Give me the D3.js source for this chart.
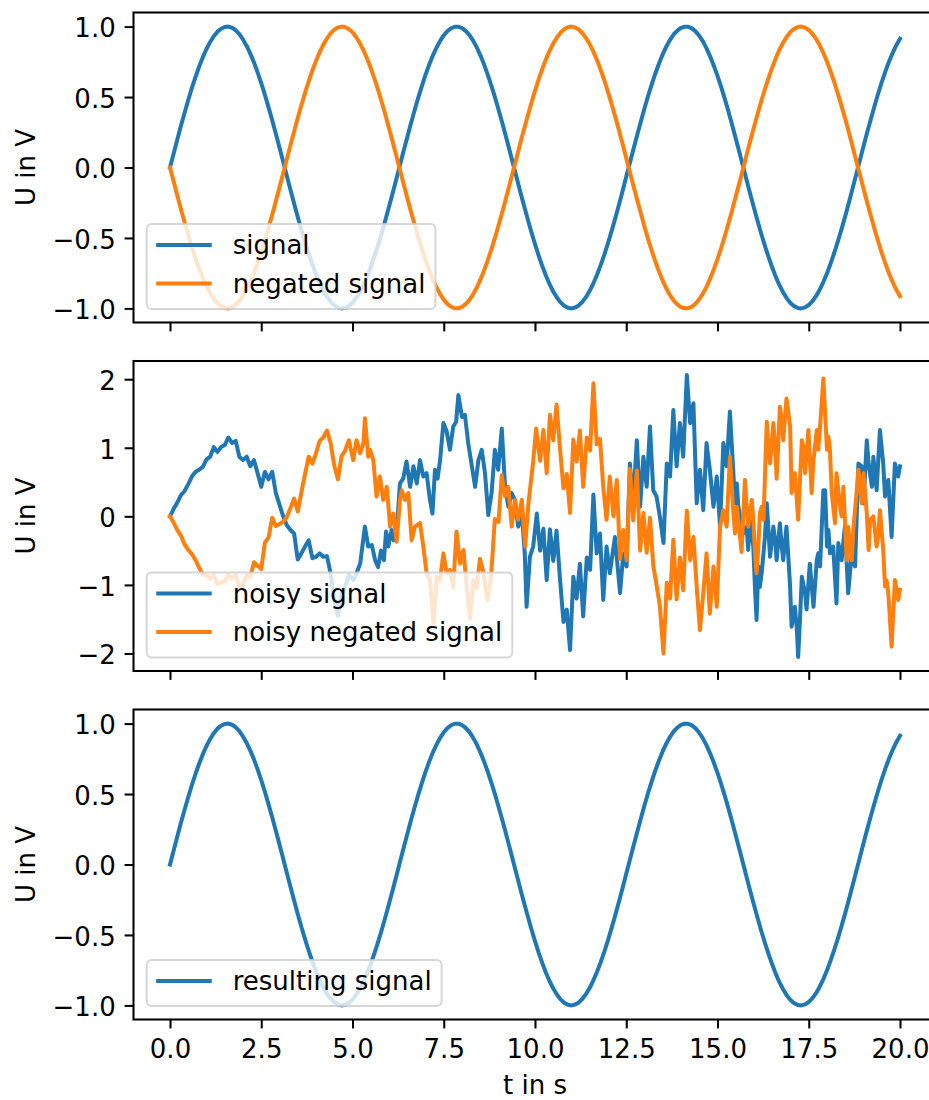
<!DOCTYPE html>
<html><head><meta charset="utf-8">
<script src="https://cdn.jsdelivr.net/npm/d3@7"></script>
<style>
body{margin:0;background:#fff}
svg{display:block}
text{font-family:"DejaVu Sans",sans-serif;fill:#000}
</style>
</head><body>
<svg id="c" width="929" height="1100"></svg>
<script>
// ---------- DATA ----------
const timeGrid = [0,0.1,0.2,0.3,0.4,0.5,0.6,0.7,0.8,0.9,1,1.1,1.2,1.3,1.4,1.5,1.6,1.7,1.8,1.9,2,2.1,2.2,2.3,2.4,2.5,2.6,2.7,2.8,2.9,3,3.1,3.2,3.3,3.4,3.5,3.6,3.7,3.8,3.9,4,4.1,4.2,4.3,4.4,4.5,4.6,4.7,4.8,4.9,5,5.1,5.2,5.3,5.4,5.5,5.6,5.7,5.8,5.9,6,6.1,6.2,6.3,6.4,6.5,6.6,6.7,6.8,6.9,7,7.1,7.2,7.3,7.4,7.5,7.6,7.7,7.8,7.9,8,8.1,8.2,8.3,8.4,8.5,8.6,8.7,8.8,8.9,9,9.1,9.2,9.3,9.4,9.5,9.6,9.7,9.8,9.9,10,10.1,10.2,10.3,10.4,10.5,10.6,10.7,10.8,10.9,11,11.1,11.2,11.3,11.4,11.5,11.6,11.7,11.8,11.9,12,12.1,12.2,12.3,12.4,12.5,12.6,12.7,12.8,12.9,13,13.1,13.2,13.3,13.4,13.5,13.6,13.7,13.8,13.9,14,14.1,14.2,14.3,14.4,14.5,14.6,14.7,14.8,14.9,15,15.1,15.2,15.3,15.4,15.5,15.6,15.7,15.8,15.9,16,16.1,16.2,16.3,16.4,16.5,16.6,16.7,16.8,16.9,17,17.1,17.2,17.3,17.4,17.5,17.6,17.7,17.8,17.9,18,18.1,18.2,18.3,18.4,18.5,18.6,18.7,18.8,18.9,19,19.1,19.2,19.3,19.4,19.5,19.6,19.7,19.8,19.9,20];

const signal = [0,0.1,0.199,0.296,0.389,0.479,0.565,0.644,0.717,0.783,0.841,0.891,0.932,0.964,0.985,0.997,1.0,0.992,0.974,0.946,0.909,0.863,0.808,0.746,0.675,0.598,0.516,0.427,0.335,0.239,0.141,0.042,-0.058,-0.158,-0.256,-0.351,-0.443,-0.53,-0.612,-0.688,-0.757,-0.818,-0.872,-0.916,-0.952,-0.978,-0.994,-1.0,-0.996,-0.982,-0.959,-0.926,-0.883,-0.832,-0.773,-0.706,-0.631,-0.551,-0.465,-0.374,-0.279,-0.182,-0.083,0.017,0.117,0.215,0.312,0.405,0.494,0.578,0.657,0.729,0.794,0.85,0.899,0.938,0.968,0.988,0.999,0.999,0.989,0.97,0.941,0.902,0.855,0.798,0.734,0.663,0.585,0.501,0.412,0.319,0.223,0.124,0.025,-0.075,-0.175,-0.272,-0.366,-0.458,-0.544,-0.625,-0.7,-0.768,-0.828,-0.88,-0.923,-0.957,-0.981,-0.996,-1.0,-0.994,-0.979,-0.953,-0.918,-0.875,-0.822,-0.761,-0.693,-0.618,-0.537,-0.45,-0.359,-0.264,-0.166,-0.066,0.034,0.133,0.231,0.327,0.42,0.509,0.592,0.669,0.74,0.804,0.859,0.906,0.944,0.972,0.991,0.999,0.998,0.987,0.966,0.935,0.895,0.845,0.787,0.722,0.65,0.572,0.487,0.397,0.304,0.206,0.108,0.008,-0.092,-0.191,-0.288,-0.382,-0.472,-0.557,-0.636,-0.71,-0.778,-0.837,-0.887,-0.929,-0.961,-0.984,-0.997,-1.0,-0.993,-0.976,-0.949,-0.913,-0.867,-0.813,-0.751,-0.681,-0.605,-0.523,-0.436,-0.345,-0.248,-0.149,-0.05,0.05,0.15,0.248,0.343,0.435,0.523,0.606,0.682,0.752,0.814,0.868,0.913];

const negatedSignal = [0,-0.1,-0.199,-0.296,-0.389,-0.479,-0.565,-0.644,-0.717,-0.783,-0.841,-0.891,-0.932,-0.964,-0.985,-0.997,-1.0,-0.992,-0.974,-0.946,-0.909,-0.863,-0.808,-0.746,-0.675,-0.598,-0.516,-0.427,-0.335,-0.239,-0.141,-0.042,0.058,0.158,0.256,0.351,0.443,0.53,0.612,0.688,0.757,0.818,0.872,0.916,0.952,0.978,0.994,1.0,0.996,0.982,0.959,0.926,0.883,0.832,0.773,0.706,0.631,0.551,0.465,0.374,0.279,0.182,0.083,-0.017,-0.117,-0.215,-0.312,-0.405,-0.494,-0.578,-0.657,-0.729,-0.794,-0.85,-0.899,-0.938,-0.968,-0.988,-0.999,-0.999,-0.989,-0.97,-0.941,-0.902,-0.855,-0.798,-0.734,-0.663,-0.585,-0.501,-0.412,-0.319,-0.223,-0.124,-0.025,0.075,0.175,0.272,0.366,0.458,0.544,0.625,0.7,0.768,0.828,0.88,0.923,0.957,0.981,0.996,1.0,0.994,0.979,0.953,0.918,0.875,0.822,0.761,0.693,0.618,0.537,0.45,0.359,0.264,0.166,0.066,-0.034,-0.133,-0.231,-0.327,-0.42,-0.509,-0.592,-0.669,-0.74,-0.804,-0.859,-0.906,-0.944,-0.972,-0.991,-0.999,-0.998,-0.987,-0.966,-0.935,-0.895,-0.845,-0.787,-0.722,-0.65,-0.572,-0.487,-0.397,-0.304,-0.206,-0.108,-0.008,0.092,0.191,0.288,0.382,0.472,0.557,0.636,0.71,0.778,0.837,0.887,0.929,0.961,0.984,0.997,1.0,0.993,0.976,0.949,0.913,0.867,0.813,0.751,0.681,0.605,0.523,0.436,0.345,0.248,0.149,0.05,-0.05,-0.15,-0.248,-0.343,-0.435,-0.523,-0.606,-0.682,-0.752,-0.814,-0.868,-0.913];

const resultingSignal = [0,0.1,0.199,0.296,0.389,0.479,0.565,0.644,0.717,0.783,0.841,0.891,0.932,0.964,0.985,0.997,1.0,0.992,0.974,0.946,0.909,0.863,0.808,0.746,0.675,0.598,0.516,0.427,0.335,0.239,0.141,0.042,-0.058,-0.158,-0.256,-0.351,-0.443,-0.53,-0.612,-0.688,-0.757,-0.818,-0.872,-0.916,-0.952,-0.978,-0.994,-1.0,-0.996,-0.982,-0.959,-0.926,-0.883,-0.832,-0.773,-0.706,-0.631,-0.551,-0.465,-0.374,-0.279,-0.182,-0.083,0.017,0.117,0.215,0.312,0.405,0.494,0.578,0.657,0.729,0.794,0.85,0.899,0.938,0.968,0.988,0.999,0.999,0.989,0.97,0.941,0.902,0.855,0.798,0.734,0.663,0.585,0.501,0.412,0.319,0.223,0.124,0.025,-0.075,-0.175,-0.272,-0.366,-0.458,-0.544,-0.625,-0.7,-0.768,-0.828,-0.88,-0.923,-0.957,-0.981,-0.996,-1.0,-0.994,-0.979,-0.953,-0.918,-0.875,-0.822,-0.761,-0.693,-0.618,-0.537,-0.45,-0.359,-0.264,-0.166,-0.066,0.034,0.133,0.231,0.327,0.42,0.509,0.592,0.669,0.74,0.804,0.859,0.906,0.944,0.972,0.991,0.999,0.998,0.987,0.966,0.935,0.895,0.845,0.787,0.722,0.65,0.572,0.487,0.397,0.304,0.206,0.108,0.008,-0.092,-0.191,-0.288,-0.382,-0.472,-0.557,-0.636,-0.71,-0.778,-0.837,-0.887,-0.929,-0.961,-0.984,-0.997,-1.0,-0.993,-0.976,-0.949,-0.913,-0.867,-0.813,-0.751,-0.681,-0.605,-0.523,-0.436,-0.345,-0.248,-0.149,-0.05,0.05,0.15,0.248,0.343,0.435,0.523,0.606,0.682,0.752,0.814,0.868,0.913];

const noisySignalTime = [0,0.1,0.2,0.3,0.4,0.5,0.6,0.7,0.8,0.9,1,1.1,1.2,1.3,1.4,1.5,1.6,1.7,1.8,1.9,2,2.1,2.2,2.3,2.4,2.5,2.6,2.7,2.8,2.9,3,3.1,3.2,3.3,3.4,3.5,3.6,3.7,3.8,3.9,4,4.1,4.2,4.3,4.4,4.5,4.6,4.7,4.8,4.9,
5.02,5.11,5.21,5.34,5.43,5.53,5.62,5.7,5.78,5.86,5.92,5.98,6.07,6.13,6.21,6.3,6.39,6.48,6.58,6.67,6.76,6.85,6.94,7.03,7.12,7.19,7.26,7.33,7.4,7.49,7.58,7.67,7.76,7.84,7.9,8,8.08,8.17,8.27,8.36,8.45,8.54,8.63,8.72,8.81,8.9,8.99,9.09,9.18,9.27,9.36,9.45,9.54,9.64,9.72,9.77,9.86,9.95,10.05,
10.14,10.23,10.32,10.41,10.5,10.59,10.68,10.78,10.87,10.96,11.05,11.14,11.23,11.32,11.42,11.51,11.6,11.69,11.78,11.87,11.96,12.05,12.19,12.33,12.42,12.51,12.6,12.69,12.79,12.88,12.97,13.06,13.15,13.24,13.33,13.42,13.52,13.61,13.7,13.79,13.88,13.97,14.06,14.16,14.25,14.34,14.43,14.52,14.61,14.7,14.79,14.89,14.98,15.07,15.16,15.25,15.34,
15.43,15.48,15.53,15.57,15.71,15.8,15.84,15.89,15.98,16.03,16.07,16.12,16.16,16.21,16.3,16.35,16.39,16.44,16.53,16.58,16.62,16.71,16.76,16.8,16.89,16.99,17.03,17.12,17.17,17.21,17.26,17.31,17.4,17.44,17.53,17.63,17.72,17.76,17.81,17.9,17.95,18,18.04,18.08,18.17,18.26,18.31,18.4,18.49,18.58,18.68,18.77,18.86,18.95,19,19.09,19.14,19.23,19.27,19.36,19.45,19.54,19.59,19.68,19.77,19.86,19.95,20];

const noisySignal = [0,0.11,0.2,0.31,0.37,0.47,0.58,0.65,0.68,0.72,0.83,0.87,1.01,0.94,1.01,1.04,1.15,1.07,1.1,0.87,0.82,0.87,0.73,0.82,0.63,0.43,0.65,0.54,0.65,0.34,0.17,0,-0.13,-0.2,-0.25,-0.63,-0.54,-0.44,-0.35,-0.61,-0.59,-0.54,-0.59,-0.58,-0.83,-1.22,-1.45,-1.12,-1.03,-0.85,
-0.93,-0.83,-0.69,-0.15,-0.44,-0.42,-0.64,-0.74,-0.5,-0.64,-0.22,-0.44,-0.2,-0.35,-0.22,0.48,0.55,0.8,0.43,0.73,0.48,0.82,0.58,0.63,0.25,0.04,0.68,0.55,0.82,1.36,1.24,0.97,1.31,1.38,1.77,1.45,1.48,1.07,0.73,0.43,0.82,0.97,0.63,0.02,0.34,0.97,0.68,1.28,0.43,0.14,0.34,0.24,-0.15,0.04,-0.55,-1.32,-0.59,-0.44,0.04,
-0.5,-0.18,-0.93,-0.19,-0.65,-0.21,-0.88,-1.54,-1.36,-1.95,-0.88,-1.2,-0.69,-1.46,-0.6,-0.78,0.32,-0.54,-0.25,-1.22,-0.44,-0.83,-0.3,-1.12,-0.54,-0.73,0.77,0.19,1.11,0.14,0.87,0.43,1.31,0.38,0.29,0,-0.39,0.77,0.58,1.55,0.73,1.36,0.87,2.06,1.36,1.65,0.19,0.68,0.09,1.07,0.68,0.14,0.58,-0.15,1.07,0.73,1.53,
0.68,0.19,0.48,0.14,-0.25,-0.15,-0.49,-0.05,-0.44,-1.08,-1.51,-0.73,-1.03,-0.83,-0.3,0.19,-0.15,-0.59,-0.15,-0.35,-0.64,-0.1,-0.44,-0.64,-0.15,-1.03,-1.61,-1.32,-1.61,-2.05,-1.51,-0.88,-1.12,-1.36,-0.69,-1.32,-0.64,-0.54,-0.73,0.38,0.38,-0.44,-0.2,-0.54,-0.44,-1.27,-0.39,-0.64,-0.15,-1.12,-0.54,-0.73,0.77,0.73,0.19,1.11,0.77,0.43,0.87,0.38,1.26,0.77,0.29,0.53,-0.3,0.77,0.58,0.73];

const noisyNegatedTime = [0,0.1,0.2,0.3,0.4,0.5,0.6,0.7,0.8,0.9,1,1.1,1.2,1.3,1.4,1.5,1.6,1.7,1.8,1.9,2,2.1,2.2,2.3,2.4,2.5,2.6,2.7,2.8,2.9,3,3.1,3.2,3.3,3.4,3.5,3.6,3.7,3.8,3.9,4,4.1,4.2,4.3,4.4,4.5,4.6,4.7,4.8,4.9,
5.02,5.11,5.21,5.3,5.34,5.43,5.48,5.57,5.66,5.75,5.84,5.94,6.03,6.12,6.21,6.3,6.35,6.44,6.53,6.62,6.71,6.85,6.94,7.03,7.12,7.22,7.31,7.4,7.49,7.58,7.67,7.76,7.85,7.95,8.04,8.13,8.22,8.31,8.4,8.49,8.58,8.7,8.8,8.9,9,9.09,9.18,9.27,9.36,9.45,9.54,9.64,9.73,9.82,9.95,10.03,
10.14,10.23,10.32,10.41,10.5,10.59,10.68,10.78,10.87,10.96,11.05,11.14,11.23,11.32,11.42,11.51,11.6,11.69,11.78,11.87,11.96,12.05,12.15,12.24,12.33,12.42,12.51,12.6,12.69,12.79,12.88,12.97,13.06,13.15,13.24,13.33,13.42,13.52,13.61,13.7,13.79,13.88,13.97,14.06,14.16,14.25,14.34,14.43,14.52,14.61,14.7,14.79,14.89,14.98,15.07,15.16,15.25,15.34,
15.43,15.48,15.53,15.57,15.66,15.75,15.8,15.84,15.94,15.98,16.03,16.07,16.12,16.16,16.21,16.26,16.35,16.39,16.44,16.53,16.58,16.62,16.71,16.76,16.8,16.89,16.99,17.03,17.12,17.21,17.31,17.35,17.4,17.49,17.58,17.63,17.72,17.76,17.81,17.9,18,18.04,18.08,18.13,18.22,18.26,18.36,18.4,18.45,18.54,18.58,18.68,18.72,18.81,18.86,18.95,19,19.09,19.14,19.18,19.27,19.36,19.41,19.45,19.54,19.59,19.63,19.68,19.77,19.86,19.95,20];

const noisyNegatedSignal = [0,-0.09,-0.2,-0.28,-0.41,-0.49,-0.55,-0.64,-0.75,-0.85,-0.85,-0.91,-0.85,-0.99,-0.96,-0.95,-0.85,-0.91,-0.85,-1.02,-1,-0.86,-0.89,-0.67,-0.72,-0.77,-0.38,-0.31,-0.02,-0.14,-0.11,-0.08,-0.01,0.12,0.26,0.07,0.35,0.62,0.87,0.77,0.92,1.1,1.15,1.25,1.07,0.74,0.54,0.88,0.96,1.11,
0.82,1.11,0.92,1.07,1.43,0.87,0.97,0.82,0.29,0.58,0.24,0.43,-0.15,0.04,-0.37,0.24,0.38,0.24,0.34,-0.35,-0.15,-0.1,-0.44,-0.83,-0.93,-1.56,-0.88,-0.93,-0.54,-0.83,-0.78,-1.03,-0.22,-0.69,-0.49,-1.03,-1.49,-0.93,-1.05,-0.62,-0.8,-1.22,-0.85,-0.04,-0.08,0.6,0.29,0.43,-0.15,0.24,-0.05,0.24,-0.44,0.19,0.8,1.28,
0.81,1.26,0.63,1.48,1.11,1.63,1.02,0.41,0.62,0.05,1.12,0.8,1.25,0.43,1.15,0.96,1.94,1.05,1.13,0.43,-0.05,0.58,0,0.53,-0.62,-0.2,-0.64,0.69,-0.06,0.67,-0.5,0.05,-0.53,-0.02,-0.72,-1,-1.3,-2,-0.97,-1.2,-0.34,-1.21,-0.6,-1.08,0.08,-0.64,-0.3,-1.03,-1.66,-1.12,-0.54,-1.42,-0.73,-1.32,-0.15,0.09,-0.15,0.87,
0.09,-0.25,0.14,-0.05,-0.52,0.53,0.14,-0.15,0.24,-0.05,-0.54,-0.83,-0.44,0.04,0.14,-0.05,1.38,1.06,0.77,1.36,1.02,0.55,1.6,1.41,1.11,1.72,1.31,0.34,0.63,-0.05,1.11,1.02,0.63,1.26,0.34,0.82,1.26,0.97,1.31,2.01,0.97,1.16,0.97,0.34,-0.1,0.63,0.14,0,0.43,-0.64,-0.15,-0.64,-0.2,0.34,0.68,0.19,0.63,0.04,-0.49,-0.05,0,-0.44,-0.25,0.09,-0.49,-1.02,-0.93,-1.12,-1.9,-0.93,-1.22,-1.07];

const xTicks = [0, 2.5, 5, 7.5, 10, 12.5, 15, 17.5, 20];
const yTicksUnit = [-1, -0.5, 0, 0.5, 1];
const yTicksNoisy = [-2, -1, 0, 1, 2];
const legendTop = ["signal", "negated signal"];
const legendMiddle = ["noisy signal", "noisy negated signal"];
const legendBottom = ["resulting signal"];
const yAxisLabel = "U in V";
const xAxisLabel = "t in s";

// ---------- DRAW ----------
const C0 = "#1f77b4", C1 = "#ff7f0e";
const FS = 26, LW = 4, TICK = 8.9, SPINE = 2.05;
const svg = d3.select("#c");
const axL = 133.5, axR = 936.5;
const x = d3.scaleLinear().domain([-1, 21]).range([axL, axR]);

const noisyAll = noisySignal.concat(noisyNegatedSignal);
const nMin = d3.min(noisyAll), nMax = d3.max(noisyAll), nPad = (nMax - nMin) * 0.05;

const panels = [
  {top: 12.5, bottom: 322.5, domain: [-1.1, 1.1], ticks: yTicksUnit, fmt: d3.format(".1f"), xlab: false,
   series: [{t: timeGrid, v: signal, c: C0}, {t: timeGrid, v: negatedSignal, c: C1}], legend: legendTop},
  {top: 361, bottom: 671, domain: [nMin - nPad, nMax + nPad], ticks: yTicksNoisy, fmt: d3.format("d"), xlab: false,
   series: [{t: noisySignalTime, v: noisySignal, c: C0}, {t: noisyNegatedTime, v: noisyNegatedSignal, c: C1}], legend: legendMiddle},
  {top: 709.5, bottom: 1019.5, domain: [-1.1, 1.1], ticks: yTicksUnit, fmt: d3.format(".1f"), xlab: true,
   series: [{t: timeGrid, v: resultingSignal, c: C0}], legend: legendBottom}
];

const defs = svg.append("defs");
panels.forEach((p, pi) => {
  const y = d3.scaleLinear().domain(p.domain).range([p.bottom, p.top]);
  const g = svg.append("g");
  const cid = "clip" + pi;
  defs.append("clipPath").attr("id", cid).append("rect")
    .attr("x", axL).attr("y", p.top).attr("width", axR - axL).attr("height", p.bottom - p.top);

  // lines
  const lg = g.append("g").attr("clip-path", `url(#${cid})`);
  p.series.forEach(s => {
    const pts = s.t.map((t, i) => [t, s.v[i]]);
    lg.append("path")
      .attr("d", d3.line().x(d => x(d[0])).y(d => y(d[1]))(pts))
      .attr("fill", "none").attr("stroke", s.c).attr("stroke-width", LW)
      .attr("stroke-linejoin", "round").attr("stroke-linecap", "square");
  });

  // y axis
  const ya = g.append("g").attr("transform", `translate(${axL},0)`)
    .call(d3.axisLeft(y).tickValues(p.ticks).tickFormat(p.fmt).tickSize(TICK).tickSizeOuter(0).tickPadding(TICK));
  ya.select(".domain").remove();
  ya.selectAll(".tick line").attr("stroke-width", SPINE);
  ya.selectAll(".tick text").attr("font-size", FS).attr("font-family", "DejaVu Sans").attr("dy", "0.4em");

  // x axis
  const xa = g.append("g").attr("transform", `translate(0,${p.bottom})`)
    .call(d3.axisBottom(x).tickValues(xTicks).tickFormat(p.xlab ? d3.format(".1f") : () => "").tickSize(TICK).tickSizeOuter(0).tickPadding(11));
  xa.select(".domain").remove();
  xa.selectAll(".tick line").attr("stroke-width", SPINE);
  xa.selectAll(".tick text").attr("font-size", FS).attr("font-family", "DejaVu Sans");

  // spines
  g.append("rect").attr("x", axL).attr("y", p.top).attr("width", axR - axL).attr("height", p.bottom - p.top)
    .attr("fill", "none").attr("stroke", "#000").attr("stroke-width", SPINE);

  // y label
  g.append("text").attr("transform", `translate(35,${(p.top + p.bottom) / 2}) rotate(-90)`)
    .attr("text-anchor", "middle").attr("font-size", FS).text(yAxisLabel);

  // legend
  const n = p.legend.length;
  const bx = axL + 13.2, bh = 7 + 39 * n, by = p.bottom - 13.5 - bh;
  const leg = g.append("g");
  const box = leg.append("rect").attr("x", bx).attr("y", by).attr("height", bh).attr("rx", 5).attr("ry", 5)
    .attr("fill", "#fff").attr("fill-opacity", 0.8).attr("stroke", "#cccccc").attr("stroke-opacity", 0.8).attr("stroke-width", 2);
  let maxW = 0;
  p.legend.forEach((lab, i) => {
    const ry = by + 21 + 38.5 * i;
    leg.append("line").attr("x1", bx + 9.5).attr("x2", bx + 65).attr("y1", ry).attr("y2", ry)
      .attr("stroke", p.series[i].c).attr("stroke-width", LW).attr("stroke-linecap", "butt");
    const tx = leg.append("text").attr("x", bx + 86).attr("y", ry + 9).attr("font-size", FS).text(lab);
    maxW = Math.max(maxW, tx.node().getComputedTextLength());
  });
  box.attr("width", 86 + maxW + 10);
});

// x label
svg.append("text").attr("x", (axL + axR) / 2).attr("y", 1094).attr("text-anchor", "middle")
  .attr("font-size", FS).text(xAxisLabel);
</script>
</body></html>
